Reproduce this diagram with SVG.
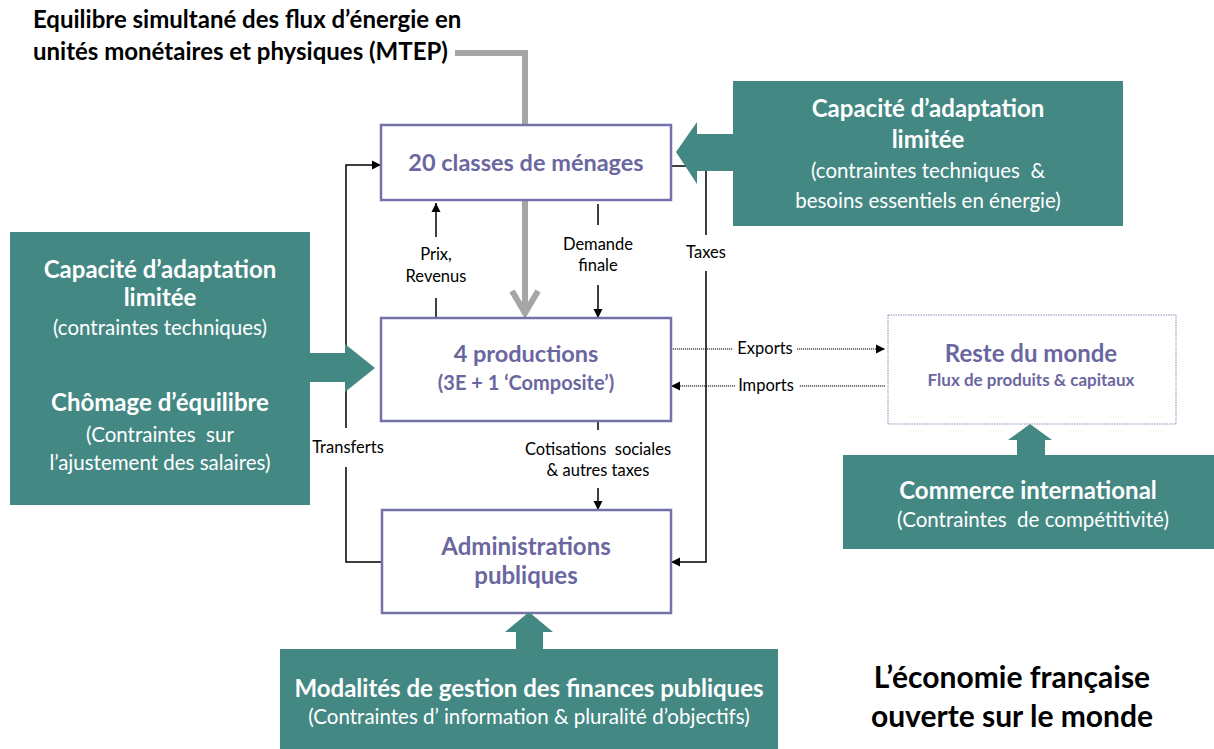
<svg xmlns="http://www.w3.org/2000/svg" width="1214" height="749" viewBox="0 0 1214 749">
<defs>
<style>
.box{fill:#fff;stroke:#7571AA;stroke-width:2.5}
.teal{fill:#448884}
.pt{font-family:Lato,"Liberation Sans",sans-serif;font-weight:bold;fill:#6A67A0;text-anchor:middle}
.wb{font-family:Lato,"Liberation Sans",sans-serif;font-weight:bold;fill:#fff;text-anchor:middle;font-size:24px}
.wn{font-family:Lato,"Liberation Sans",sans-serif;fill:#fff;text-anchor:middle;font-size:20.5px}
.lbl{font-family:Lato,"Liberation Sans",sans-serif;fill:#000;font-size:16.5px;text-anchor:middle}
.ln{fill:none;stroke:#000;stroke-width:1.5}
.dl{fill:none;stroke:#000;stroke-width:1.2;stroke-dasharray:1.2 0.8}
.gray{fill:none;stroke:#A6A6A6;stroke-width:6}
.bk{font-family:Lato,"Liberation Sans",sans-serif;font-weight:bold;fill:#000}
</style>
<marker id="ah" viewBox="0 0 10 10" refX="10" refY="5" markerWidth="9" markerHeight="10" markerUnits="userSpaceOnUse" orient="auto"><path d="M0,0 L10,5 L0,10z" fill="#000"/></marker>
</defs>
<rect width="1214" height="749" fill="#fff"/>

<g id="title">
<text class="bk" x="33" y="28" font-size="24">Equilibre simultané des flux d’énergie en</text>
<text class="bk" x="33" y="60" font-size="24">unités monétaires et physiques (MTEP)</text>
</g>

<g id="connectors">
<path class="gray" d="M455,53 H525 V126"/>
<path class="gray" d="M525,200 V313"/>
<path class="gray" d="M512,291 L525,313 L538,291" stroke-linejoin="miter"/>
<path class="ln" d="M382,562 H346 V467"/>
<path class="ln" d="M346,428 V165 H381" marker-end="url(#ah)"/>
<path class="ln" d="M671,166 H706 V235"/>
<path class="ln" d="M706,271 V562 H671" marker-end="url(#ah)"/>
<path class="ln" d="M436,318 V298"/>
<path class="ln" d="M436,237 V203" marker-end="url(#ah)"/>
<path class="ln" d="M598,204 V225"/>
<path class="ln" d="M598,285 V318" marker-end="url(#ah)"/>
<path class="ln" d="M598,421 V430"/>
<path class="ln" d="M598,488 V510" marker-end="url(#ah)"/>
<path class="dl" d="M671,349 H733"/>
<path class="dl" d="M797,349 H885" marker-end="url(#ah)"/>
<path class="dl" d="M885,386 H799"/>
<path class="dl" d="M735,386 H671" marker-end="url(#ah)"/>
<text class="lbl" x="436" y="260">Prix,</text>
<text class="lbl" x="436" y="282">Revenus</text>
<text class="lbl" x="598" y="250">Demande</text>
<text class="lbl" x="598" y="271">finale</text>
<text class="lbl" x="706" y="258">Taxes</text>
<text class="lbl" x="348" y="453">Transferts</text>
<text class="lbl" x="598" y="455" xml:space="preserve">Cotisations  sociales</text>
<text class="lbl" x="598" y="476">&amp; autres taxes</text>
<text class="lbl" x="765" y="354">Exports</text>
<text class="lbl" x="766" y="391">Imports</text>
</g>

<g id="menages">
<rect class="box" x="381" y="125" width="290" height="75"/>
<text class="pt" x="526" y="171" font-size="23.5">20 classes de ménages</text>
</g>

<g id="productions">
<rect class="box" x="381" y="318" width="290" height="103"/>
<text class="pt" x="526" y="362" font-size="23.5">4 productions</text>
<text class="pt" x="526" y="390" font-size="20">(3E + 1 ‘Composite’)</text>
</g>

<g id="administrations">
<rect class="box" x="382" y="510" width="289" height="103"/>
<text class="pt" x="526" y="555" font-size="24">Administrations</text>
<text class="pt" x="526" y="584" font-size="24">publiques</text>
</g>

<g id="reste-du-monde">
<rect x="888" y="315" width="288" height="109" fill="#fff" stroke="#8A88B8" stroke-width="1" stroke-dasharray="1.5 1"/>
<text class="pt" x="1031" y="362" font-size="24">Reste du monde</text>
<text class="pt" x="1031" y="386" font-size="17">Flux de produits &amp; capitaux</text>
</g>

<g id="contrainte-menages">
<rect class="teal" x="733" y="81" width="390" height="145"/>
<polygon class="teal" points="734,134 697,134 697,122 676,152 697,184 697,171 734,171"/>
<text class="wb" x="928" y="117">Capacité d’adaptation</text>
<text class="wb" x="928" y="148">limitée</text>
<text class="wn" x="928" y="178" xml:space="preserve">(contraintes techniques  &amp;</text>
<text class="wn" x="928" y="208">besoins essentiels en énergie)</text>
</g>

<g id="contrainte-productions">
<rect class="teal" x="10" y="232" width="300" height="273"/>
<polygon class="teal" points="309,353 345,353 345,344 375,368 345,392 345,382 309,382"/>
<text class="wb" x="160" y="278">Capacité d’adaptation</text>
<text class="wb" x="160" y="306">limitée</text>
<text class="wn" x="160" y="335">(contraintes techniques)</text>
<text class="wb" x="160" y="411">Chômage d’équilibre</text>
<text class="wn" x="160" y="442" xml:space="preserve">(Contraintes  sur</text>
<text class="wn" x="160" y="470">l’ajustement des salaires)</text>
</g>

<g id="contrainte-commerce">
<rect class="teal" x="843" y="455" width="371" height="94"/>
<polygon class="teal" points="1017,456 1017,440 1008,440 1030,424 1052,440 1045,440 1045,456"/>
<text class="wb" x="1028" y="499">Commerce international</text>
<text class="wn" x="1033" y="527" xml:space="preserve">(Contraintes  de compétitivité)</text>
</g>

<g id="contrainte-finances">
<rect class="teal" x="280" y="649" width="498" height="100"/>
<polygon class="teal" points="516,650 516,632 505,632 529,612 553,632 543,632 543,650"/>
<text class="wb" x="529" y="697">Modalités de gestion des finances publiques</text>
<text class="wn" x="529" y="724">(Contraintes d’ information &amp; pluralité d’objectifs)</text>
</g>

<g id="legende">
<text class="bk" x="1012" y="688" font-size="30" text-anchor="middle">L’économie française</text>
<text class="bk" x="1012" y="727" font-size="30" text-anchor="middle">ouverte sur le monde</text>
</g>
</svg>
